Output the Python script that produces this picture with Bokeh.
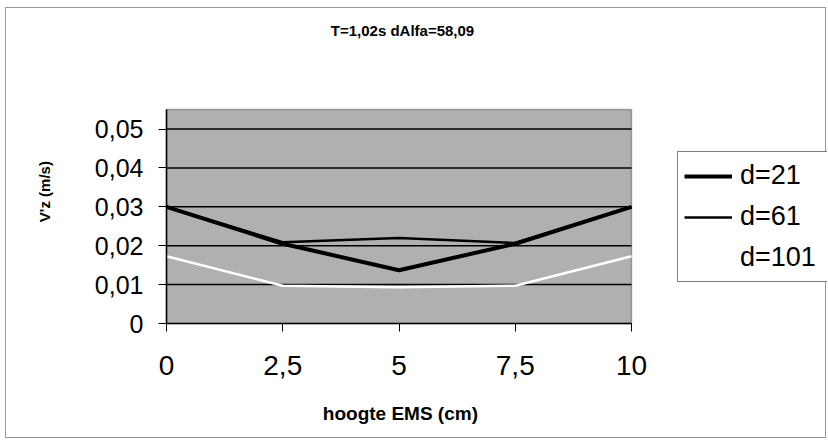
from math import pi
from bokeh.plotting import figure
from bokeh.models import (Range1d, FixedTicker, Legend, LegendItem, Label,
                          BoxAnnotation, LinearAxis)
from bokeh.embed import file_html
from bokeh.resources import INLINE

# ---- data ----
title_text = "T=1,02s dAlfa=58,09"
x_title = "hoogte EMS (cm)"
y_title = "V'z (m/s)"

hoogte = [0, 2.5, 5, 7.5, 10]
d21 = [0.0300, 0.0205, 0.0137, 0.0205, 0.0300]
d61 = [0.0300, 0.0209, 0.0220, 0.0207, 0.0300]
d101 = [0.0173, 0.0097, 0.0093, 0.0097, 0.0173]
series_names = ["d=21", "d=61", "d=101"]

x_ticks = [0, 2.5, 5, 7.5, 10]
x_tick_labels = ["0", "2,5", "5", "7,5", "10"]
y_ticks = [0, 0.01, 0.02, 0.03, 0.04, 0.05]
y_tick_labels = ["0", "0,01", "0,02", "0,03", "0,04", "0,05"]
y_top = 0.055

FONT = "Liberation Sans"

# ---- layout: the frame covers the whole canvas ----
W, H = 821, 431
PX_X = 46.5          # pixels per x unit
PX_Y = 3890.0        # pixels per y unit
X0_PX, Y0_PX = 160, 315   # canvas position of the data origin
x_range = Range1d(-X0_PX / PX_X, (W - X0_PX) / PX_X)
y_range = Range1d(-(H - Y0_PX) / PX_Y, Y0_PX / PX_Y)

p = figure(width=W, height=H, output_backend="svg", toolbar_location=None,
           x_range=x_range, y_range=y_range,
           x_axis_location=None, y_axis_location=None,
           min_border=0, min_border_left=0, min_border_right=0,
           min_border_top=0, min_border_bottom=0,
           styles={"border": "1px solid #999999", "margin": "7px 0px 0px 5px"})
p.background_fill_color = "white"
p.border_fill_color = "white"
p.outline_line_color = None
p.xgrid.visible = False
p.ygrid.visible = False

# plot area
p.add_layout(BoxAnnotation(left=x_ticks[0], right=x_ticks[-1], bottom=0, top=y_top,
                           fill_color="#b0b0b0", fill_alpha=1,
                           line_color="black", line_width=1.5, level="underlay"))
# horizontal grid lines
p.segment(x0=[x_ticks[0]] * (len(y_ticks) - 1), x1=[x_ticks[-1]] * (len(y_ticks) - 1),
          y0=y_ticks[1:], y1=y_ticks[1:], line_color="black", line_width=1.5)

# axes
xax = LinearAxis(ticker=FixedTicker(ticks=x_ticks), fixed_location=0, bounds=(0, 10))
yax = LinearAxis(ticker=FixedTicker(ticks=y_ticks), fixed_location=0, bounds=(0, y_top))
xax.major_label_overrides = {t: l for t, l in zip(x_ticks, x_tick_labels)}
yax.major_label_overrides = {t: l for t, l in zip(y_ticks, y_tick_labels)}
for ax in (xax, yax):
    ax.axis_line_color = "black"
    ax.axis_line_width = 1.5
    ax.major_tick_line_color = "black"
    ax.major_tick_in = 0
    ax.major_tick_out = 8
    ax.minor_tick_line_color = None
    ax.major_label_text_font = FONT
    ax.major_label_text_color = "black"
xax.major_label_text_font_size = "28px"
yax.major_label_text_font_size = "25px"
xax.major_label_standoff = 24
yax.major_label_standoff = 15
p.add_layout(xax, "below")
p.add_layout(yax, "left")

# series
r21 = p.line(hoogte, d21, line_color="black", line_width=4)
r61 = p.line(hoogte, d61, line_color="black", line_width=2.5)
r101 = p.line(hoogte, d101, line_color="white", line_width=2.5)

# texts
p.add_layout(Label(x=5.075, y=0.0753, text=title_text, text_align="center",
                   text_baseline="middle", text_font=FONT, text_font_size="15px",
                   text_font_style="bold", text_color="black"))
p.add_layout(Label(x=-2.624, y=0.0339, text=y_title, angle=pi / 2,
                   text_align="center", text_baseline="middle", text_font=FONT,
                   text_font_size="15px", text_font_style="bold", text_color="black"))
p.add_layout(Label(x=5.03, y=-0.0231, text=x_title, text_align="center",
                   text_baseline="middle", text_font=FONT, text_font_size="19px",
                   text_font_style="bold", text_color="black"))

# legend
legend = Legend(items=[LegendItem(label=series_names[0], renderers=[r21]),
                       LegendItem(label=series_names[1], renderers=[r61]),
                       LegendItem(label=series_names[2], renderers=[r101])],
                location=(671, 157))
legend.label_text_font = FONT
legend.label_text_font_size = "27px"
legend.label_text_color = "black"
legend.glyph_width = 48
legend.glyph_height = 30
legend.label_height = 35
legend.label_width = 85
legend.spacing = 6
legend.padding = 6
legend.margin = 0
legend.label_standoff = 8
legend.border_line_color = "black"
legend.border_line_width = 1
legend.background_fill_color = "white"
legend.background_fill_alpha = 1
p.add_layout(legend, "center")

open("out.html", "w").write(file_html(p, INLINE))
